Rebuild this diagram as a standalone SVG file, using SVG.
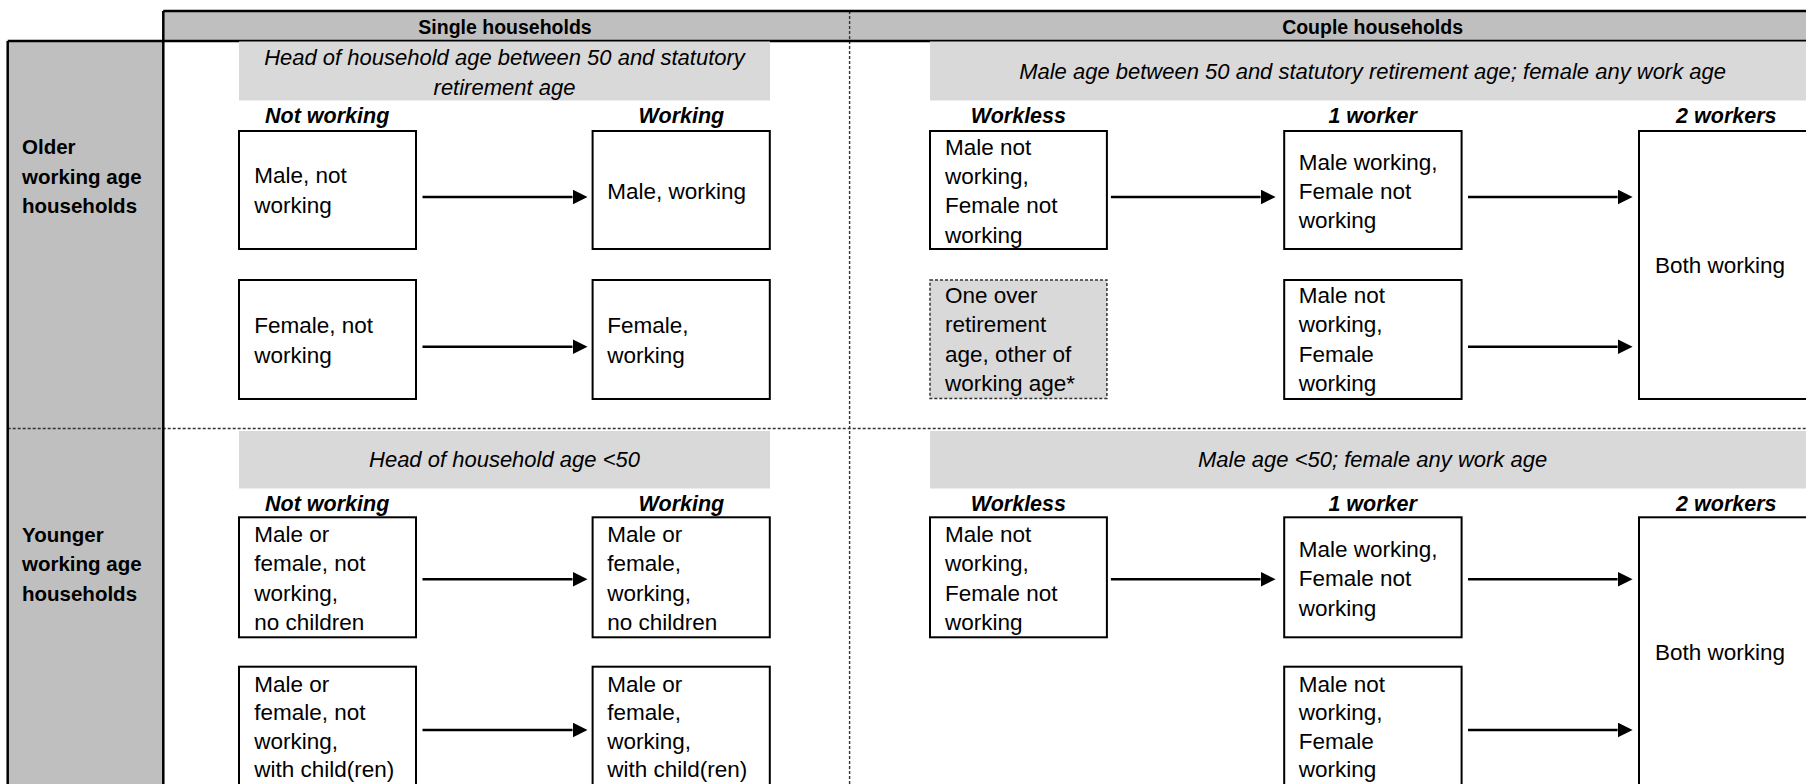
<svg xmlns="http://www.w3.org/2000/svg" width="1806" height="784" viewBox="0 0 1806 784">
<style>
text{font-family:"Liberation Sans",Arial,sans-serif;fill:#000}
.box{fill:#fff;stroke:#000;stroke-width:2}
.dbox{fill:#d9d9d9;stroke:#333;stroke-width:1.5;stroke-dasharray:3 2}
.sub{fill:#d9d9d9}
.hfill{fill:#bfbfbf}
.frame{stroke:#000;stroke-width:2.5;fill:none}
.dash{stroke:#333;stroke-width:1.4;stroke-dasharray:3 2;fill:none}
.t{font-size:22.5px}
.it{font-size:22px;font-style:italic;text-anchor:middle}
.col{font-size:21.5px;font-weight:bold;font-style:italic;text-anchor:middle}
.hdr{font-size:19.5px;font-weight:bold;text-anchor:middle}
.lbl{font-size:20.5px;font-weight:bold}
.arr{stroke:#000;stroke-width:2.5;fill:none;marker-end:url(#ah)}
</style>
<defs>
<marker id="ah" markerUnits="userSpaceOnUse" markerWidth="16" markerHeight="16" refX="0" refY="7.5" orient="auto">
<path d="M0,0 L15,7.5 L0,15 Z" fill="#000"/>
</marker>
</defs>
<rect width="1806" height="784" fill="#fff"/>

<g id="frame">
<rect class="hfill" x="163.3" y="11" width="1650" height="30"/>
<rect class="hfill" x="7.7" y="41" width="155.6" height="750"/>
<line class="dash" x1="849.6" y1="11" x2="849.6" y2="784"/>
<line class="dash" x1="7.7" y1="428.5" x2="1806" y2="428.5"/>
<line class="frame" x1="163.3" y1="11" x2="1806" y2="11"/>
<line class="frame" x1="7.7" y1="41" x2="1806" y2="41"/>
<line class="frame" x1="7.7" y1="41" x2="7.7" y2="784"/>
<line class="frame" x1="163.3" y1="11" x2="163.3" y2="784"/>
<text class="hdr" x="505" y="33.5">Single households</text>
<text class="hdr" x="1372.6" y="33.5">Couple households</text>
</g>

<g id="row-older">
<text class="lbl" x="22" y="154">Older</text>
<text class="lbl" x="22" y="183.5">working age</text>
<text class="lbl" x="22" y="213">households</text>
</g>
<g id="row-younger">
<text class="lbl" x="22" y="542">Younger</text>
<text class="lbl" x="22" y="571.3">working age</text>
<text class="lbl" x="22" y="600.5">households</text>
</g>

<g id="sub-single-older">
<rect class="sub" x="239" y="41.5" width="531" height="59"/>
<text class="it" x="504.5" y="65">Head of household age between 50 and statutory</text>
<text class="it" x="504.5" y="94.5">retirement age</text>
</g>
<g id="sub-couple-older">
<rect class="sub" x="930" y="41.5" width="880" height="59"/>
<text class="it" x="1372.6" y="79">Male age between 50 and statutory retirement age; female any work age</text>
</g>
<g id="sub-single-younger">
<rect class="sub" x="239" y="431" width="531" height="57.5"/>
<text class="it" x="504.5" y="467">Head of household age &lt;50</text>
</g>
<g id="sub-couple-younger">
<rect class="sub" x="930" y="431" width="880" height="57.5"/>
<text class="it" x="1372.6" y="467">Male age &lt;50; female any work age</text>
</g>

<g id="col-labels">
<text class="col" x="327.2" y="123.3">Not working</text>
<text class="col" x="681.4" y="123.3">Working</text>
<text class="col" x="1018.4" y="123.3">Workless</text>
<text class="col" x="1372.6" y="123.3">1 worker</text>
<text class="col" x="1726.3" y="123.3">2 workers</text>
<text class="col" x="327.2" y="510.7">Not working</text>
<text class="col" x="681.4" y="510.7">Working</text>
<text class="col" x="1018.4" y="510.7">Workless</text>
<text class="col" x="1372.6" y="510.7">1 worker</text>
<text class="col" x="1726.3" y="510.7">2 workers</text>
</g>

<!-- Older, single -->
<g id="s-old-male-nw">
<rect class="box" x="239" y="131" width="177" height="118"/>
<text class="t" x="254.3" y="183"><tspan x="254.3">Male, not</tspan><tspan x="254.3" y="213.3">working</tspan></text>
</g>
<g id="s-old-male-w">
<rect class="box" x="592.6" y="131" width="177.2" height="118"/>
<text class="t" x="607.3" y="198.8">Male, working</text>
</g>
<g id="s-old-fem-nw">
<rect class="box" x="239" y="280" width="177" height="119"/>
<text class="t" x="254.3" y="333"><tspan x="254.3">Female, not</tspan><tspan x="254.3" y="362.5">working</tspan></text>
</g>
<g id="s-old-fem-w">
<rect class="box" x="592.6" y="280" width="177.2" height="119"/>
<text class="t" x="607.3" y="333"><tspan x="607.3">Female,</tspan><tspan x="607.3" y="362.5">working</tspan></text>
</g>

<!-- Older, couple -->
<g id="c-old-workless">
<rect class="box" x="930" y="131" width="176.9" height="118"/>
<text class="t"><tspan x="945" y="154.5">Male not</tspan><tspan x="945" y="183.8">working,</tspan><tspan x="945" y="213.3">Female not</tspan><tspan x="945" y="242.5">working</tspan></text>
</g>
<g id="c-old-retired">
<rect class="dbox" x="930" y="280" width="176.9" height="118.5"/>
<text class="t"><tspan x="945" y="303.3">One over</tspan><tspan x="945" y="332.4">retirement</tspan><tspan x="945" y="361.6">age, other of</tspan><tspan x="945" y="390.7">working age*</tspan></text>
</g>
<g id="c-old-1w-male">
<rect class="box" x="1284.2" y="131" width="177.4" height="118"/>
<text class="t"><tspan x="1298.7" y="169.5">Male working,</tspan><tspan x="1298.7" y="198.5">Female not</tspan><tspan x="1298.7" y="227.5">working</tspan></text>
</g>
<g id="c-old-1w-fem">
<rect class="box" x="1284.2" y="280" width="177.4" height="119"/>
<text class="t"><tspan x="1298.7" y="303.3">Male not</tspan><tspan x="1298.7" y="332.4">working,</tspan><tspan x="1298.7" y="362">Female</tspan><tspan x="1298.7" y="390.7">working</tspan></text>
</g>
<g id="c-old-both">
<rect class="box" x="1639" y="131" width="200" height="268"/>
<text class="t" x="1655" y="273.3">Both working</text>
</g>

<!-- Younger, single -->
<g id="s-yng-nw-nochild">
<rect class="box" x="239" y="517.3" width="177" height="120"/>
<text class="t"><tspan x="254.3" y="542.3">Male or</tspan><tspan x="254.3" y="571.4">female, not</tspan><tspan x="254.3" y="600.5">working,</tspan><tspan x="254.3" y="629.6">no children</tspan></text>
</g>
<g id="s-yng-w-nochild">
<rect class="box" x="592.6" y="517.3" width="177.2" height="120"/>
<text class="t"><tspan x="607.3" y="542.3">Male or</tspan><tspan x="607.3" y="571.4">female,</tspan><tspan x="607.3" y="600.5">working,</tspan><tspan x="607.3" y="629.6">no children</tspan></text>
</g>
<g id="s-yng-nw-child">
<rect class="box" x="239" y="666.7" width="177" height="130"/>
<text class="t"><tspan x="254.3" y="691.7">Male or</tspan><tspan x="254.3" y="720.2">female, not</tspan><tspan x="254.3" y="748.7">working,</tspan><tspan x="254.3" y="777.2">with child(ren)</tspan></text>
</g>
<g id="s-yng-w-child">
<rect class="box" x="592.6" y="666.7" width="177.2" height="130"/>
<text class="t"><tspan x="607.3" y="691.7">Male or</tspan><tspan x="607.3" y="720.2">female,</tspan><tspan x="607.3" y="748.7">working,</tspan><tspan x="607.3" y="777.2">with child(ren)</tspan></text>
</g>

<!-- Younger, couple -->
<g id="c-yng-workless">
<rect class="box" x="930" y="517.3" width="176.9" height="120"/>
<text class="t"><tspan x="945" y="542.3">Male not</tspan><tspan x="945" y="571.4">working,</tspan><tspan x="945" y="600.5">Female not</tspan><tspan x="945" y="629.6">working</tspan></text>
</g>
<g id="c-yng-1w-male">
<rect class="box" x="1284.2" y="517.3" width="177.4" height="120"/>
<text class="t"><tspan x="1298.7" y="556.7">Male working,</tspan><tspan x="1298.7" y="586.3">Female not</tspan><tspan x="1298.7" y="615.6">working</tspan></text>
</g>
<g id="c-yng-1w-fem">
<rect class="box" x="1284.2" y="666.7" width="177.4" height="130"/>
<text class="t"><tspan x="1298.7" y="691.7">Male not</tspan><tspan x="1298.7" y="720.2">working,</tspan><tspan x="1298.7" y="748.7">Female</tspan><tspan x="1298.7" y="777.2">working</tspan></text>
</g>
<g id="c-yng-both">
<rect class="box" x="1639" y="517.3" width="200" height="280"/>
<text class="t" x="1655" y="660">Both working</text>
</g>

<g id="connectors">
<line class="arr" x1="422.5" y1="197" x2="572.5" y2="197"/>
<line class="arr" x1="422.5" y1="346.7" x2="572.5" y2="346.7"/>
<line class="arr" x1="1110.9" y1="197" x2="1260.6" y2="197"/>
<line class="arr" x1="1468" y1="197" x2="1617.6" y2="197"/>
<line class="arr" x1="1468" y1="346.7" x2="1617.6" y2="346.7"/>
<line class="arr" x1="422.5" y1="579.3" x2="572.5" y2="579.3"/>
<line class="arr" x1="422.5" y1="730" x2="572.5" y2="730"/>
<line class="arr" x1="1110.9" y1="579.3" x2="1260.6" y2="579.3"/>
<line class="arr" x1="1468" y1="579.3" x2="1617.6" y2="579.3"/>
<line class="arr" x1="1468" y1="730" x2="1617.6" y2="730"/>
</g>
</svg>
